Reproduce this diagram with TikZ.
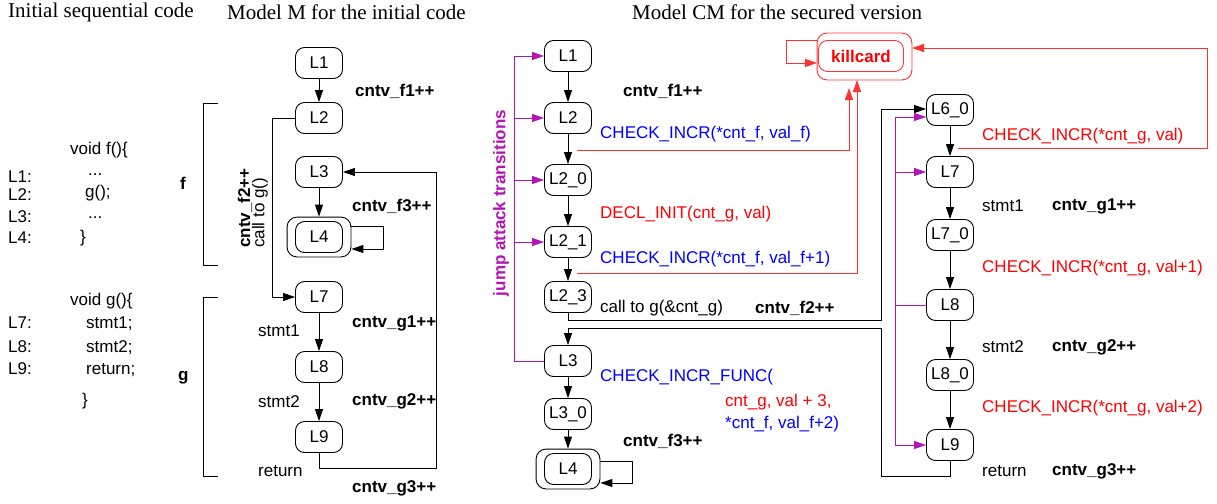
\documentclass[tikz,border=0pt]{standalone}
\usepackage{fontspec}
\setmainfont{Liberation Serif}
\setsansfont{Liberation Sans}
\usepackage{xcolor}
\usepackage{tikz}
\usetikzlibrary{calc, arrows.meta, fit}

\definecolor{jumpcol}{RGB}{180,20,180}
\definecolor{checkred}{RGB}{255,50,50}

\newcommand{\codefont}{\sffamily\fontsize{17}{20}\selectfont}
\newcommand{\titlefont}{\rmfamily\fontsize{21}{24}\selectfont}

\tikzset{
	loc/.style = {draw, line width = 0.9pt, rounded corners = 9pt, minimum width = 47pt, minimum height = 31pt, inner sep = 1pt, font = \codefont},
	final/.style = {draw, line width = 0.9pt, rounded corners = 10pt, inner xsep = 8pt, inner ysep = 4pt},
	lbl/.style = {anchor = west, inner sep = 0pt, font = \codefont},
	cnt/.style = {lbl, font = \codefont\bfseries},
	code/.style = {anchor = base west, inner sep = 0pt, font = \codefont},
	tr/.style = {-{Triangle[length = 12pt, width = 8pt]}, line width = 0.9pt},
	jump/.style = {tr, draw = jumpcol}
}

\begin{document}
\begin{tikzpicture}[x = 1pt, y = -1pt]
		\useasboundingbox (0, 0) rectangle (1217, 503);
		
		%titles
		\node [anchor = west, inner sep = 0pt, font = \titlefont] (title code) at (8, 12) {Initial sequential code};
		\node [anchor = west, inner sep = 0pt, font = \titlefont] (title m) at (227, 12) {Model M for the initial code};
		\node [anchor = west, inner sep = 0pt, font = \titlefont] (title cm) at (632, 12) {Model CM for the secured version};
		
		%initial code
		\node [code] (fun f) at (70, 154) {void f()\{};
		\node [code] (line L1) at (8, 182) {L1:};
		\node [code] (line L2) at (8, 200) {L2:};
		\node [code] (line L3) at (8, 222) {L3:};
		\node [code] (line L4) at (8, 243) {L4:};
		\node [code] (stmt L1) at (88, 175) {...};
		\node [code] (stmt L2) at (85, 197) {g();};
		\node [code] (stmt L3) at (88, 218) {...};
		\node [code] (stmt L4) at (80, 242) {\}};
		
		\node [code] (fun g) at (70, 305) {void g()\{};
		\node [code] (line L7) at (8, 328) {L7:};
		\node [code] (line L8) at (8, 352) {L8:};
		\node [code] (line L9) at (8, 374) {L9:};
		\node [code] (stmt L7) at (86, 328) {stmt1;};
		\node [code] (stmt L8) at (86, 352) {stmt2;};
		\node [code] (stmt L9) at (86, 374) {return;};
		\node [code] (stmt end) at (82, 405) {\}};
		
		%model M
		\draw [line width = 0.9pt] (218, 103) -- (203, 103) -- (203, 265) -- (218, 265);
		\draw [line width = 0.9pt] (218, 297) -- (203, 297) -- (203, 476) -- (218, 476);
			\node [cnt] (brace f) at (180, 183) {f};
			\node [cnt] (brace g) at (178, 378) {g};
		
		\node [loc] (m L1) at (319, 63) {L1};
		\node [loc] (m L2) at (319, 118) {L2};
		\node [loc] (m L3) at (319, 172) {L3};
		\node [loc] (m L4) at (319, 237) {L4};
		\node [final, fit = (m L4)] (m L4 frame) {};
		\node [loc] (m L7) at (319, 297) {L7};
		\node [loc] (m L8) at (319, 367) {L8};
		\node [loc] (m L9) at (319, 437) {L9};
		
		\draw [tr] (m L1) -- (m L2);
		\draw [tr] (m L2.west) -- ++(-23, 0) |- (m L7.west);
		\draw [tr] (m L3) -- (m L4 frame);
		\draw [tr] ($(m L4 frame.east) + (0, -11)$) -- ++(32, 0) -- ++(0, 23) -- ++(-32, 0);
		\draw [tr] (m L7) -- (m L8);
		\draw [tr] (m L8) -- (m L9);
		\draw [tr] (m L9.south) |- (436, 468) |- (m L3.east);
		
		\node [cnt] (m f1) at (355, 91) {cntv\_f1++};
		\node [cnt, rotate = 90] (m f2) at (245, 248) {cntv\_f2++};
		\node [lbl, rotate = 90] (m call) at (260, 248) {call to g()};
		\node [cnt] (m f3) at (352, 206) {cntv\_f3++};
		\node [lbl] (m stmt1) at (258, 331) {stmt1};
		\node [cnt] (m g1) at (352, 323) {cntv\_g1++};
		\node [lbl] (m stmt2) at (258, 402) {stmt2};
		\node [cnt] (m g2) at (352, 401) {cntv\_g2++};
		\node [lbl] (m return) at (258, 471) {return};
		\node [cnt] (m g3) at (352, 488) {cntv\_g3++};
		
		%model CM, function f
		\node [loc] (c L1) at (568, 56) {L1};
		\node [loc] (c L2) at (568, 118) {L2};
		\node [loc] (c L20) at (568, 180) {L2\_0};
		\node [loc] (c L21) at (568, 242) {L2\_1};
		\node [loc] (c L23) at (568, 297) {L2\_3};
		\node [loc] (c L3) at (568, 361) {L3};
		\node [loc] (c L30) at (568, 414) {L3\_0};
		\node [loc] (c L4) at (568, 469) {L4};
		\node [final, fit = (c L4)] (c L4 frame) {};
		
		\draw [tr] (c L1) -- (c L2);
		\draw [tr] (c L2) -- (c L20);
		\draw [tr] (c L20) -- (c L21);
		\draw [tr] (c L21) -- (c L23);
		\draw [tr] (c L3) -- (c L30);
		\draw [tr] (c L30) -- (c L4 frame);
		\draw [tr] ($(c L4 frame.east) + (0, -8)$) -- ++(32, 0) -- ++(0, 22) -- ++(-32, 0);
		
		%model CM, function g
		\node [loc] (c L60) at (950, 110) {L6\_0};
		\node [loc] (c L7) at (950, 172) {L7};
		\node [loc] (c L70) at (950, 235) {L7\_0};
		\node [loc] (c L8) at (950, 305) {L8};
		\node [loc] (c L80) at (950, 375) {L8\_0};
		\node [loc] (c L9) at (950, 445) {L9};
		
		\draw [tr] (c L60) -- (c L7);
		\draw [tr] (c L7) -- (c L70);
		\draw [tr] (c L70) -- (c L8);
		\draw [tr] (c L8) -- (c L80);
		\draw [tr] (c L80) -- (c L9);
		
		%call and return
		\draw [tr] (c L23.south) |- (881, 320) |- ($(c L60.west) + (0, -1)$);
		\draw [tr] (c L9.south) |- (881, 476) |- ($(c L3.north) + (0, -17)$) -- (c L3.north);
		
		%killcard
		\node [loc, draw = checkred, text = red, font = \codefont\bfseries, minimum width = 85pt] (kill) at (861, 56) {killcard};
		\draw [checkred, line width = 0.9pt, rounded corners = 10pt] ($(kill.south west) + (-1, 8)$) rectangle ($(kill.north east) + (8, -7)$);
		\draw [tr, checkred] ($(kill.west) + (-1, -16)$) -- ++(-31, 0) -- ++(0, 23) -- ++(31, 0);
		
		\draw [tr, checkred] (577, 150) -| (849, 88);
		\draw [tr, checkred] (577, 273) -| (857, 80);
		\draw [tr, checkred] (958, 148) -- (1207, 148) |- (912, 48);
		
		%jump attacks
		\draw [jumpcol, line width = 0.9pt] (c L3.west) -- ++(-30, 0) coordinate (jump left) -- (jump left |- c L1);
		\foreach \n in {L1, L2, L20, L21}
			\draw [jump] (jump left |- c \n) -- (c \n.west);
		\node [font = \codefont\bfseries, text = jumpcol, rotate = 90, inner sep = 0pt] (jump text) at (501, 203) {jump attack transitions};
		
		\draw [jumpcol, line width = 0.9pt] (c L8.west) -- ++(-31, 0) coordinate (jump right);
		\draw [jumpcol, line width = 0.9pt] ($(jump right |- c L60) + (0, 7)$) -- (jump right |- c L9);
		\draw [jump] ($(jump right |- c L60) + (0, 7)$) -- ($(c L60.west) + (0, 7)$);
		\foreach \n in {L7, L9}
			\draw [jump] (jump right |- c \n) -- (c \n.west);
		
		%transition labels
		\node [cnt] (c f1) at (623, 91) {cntv\_f1++};
		\node [lbl, text = blue] (c check1) at (600, 134) {CHECK\_INCR(*cnt\_f, val\_f)};
		\node [lbl, text = red] (c decl) at (600, 214) {DECL\_INIT(cnt\_g, val)};
		\node [lbl, text = blue] (c check2) at (600, 259) {CHECK\_INCR(*cnt\_f, val\_f+1)};
		\node [lbl] (c call) at (600, 308) {call to g(\&cnt\_g)};
		\node [cnt] (c f2) at (755, 308) {cntv\_f2++};
		\node [lbl, text = blue] (c func) at (600, 377) {CHECK\_INCR\_FUNC(};
		\node [lbl, text = red] (c func g) at (725, 402) {cnt\_g, val + 3,};
		\node [lbl, text = blue] (c func f) at (725, 424) {*cnt\_f, val\_f+2)};
		\node [cnt] (c f3) at (623, 441) {cntv\_f3++};
		
		\node [lbl, text = red] (c check3) at (982, 136) {CHECK\_INCR(*cnt\_g, val)};
		\node [lbl] (c stmt1) at (982, 206) {stmt1};
		\node [cnt] (c g1) at (1052, 206) {cntv\_g1++};
		\node [lbl, text = red] (c check4) at (982, 268) {CHECK\_INCR(*cnt\_g, val+1)};
		\node [lbl] (c stmt2) at (982, 347) {stmt2};
		\node [cnt] (c g2) at (1052, 347) {cntv\_g2++};
		\node [lbl, text = red] (c check5) at (982, 408) {CHECK\_INCR(*cnt\_g, val+2)};
		\node [lbl] (c return) at (982, 471) {return};
		\node [cnt] (c g3) at (1052, 471) {cntv\_g3++};
	\end{tikzpicture}
\end{document}
